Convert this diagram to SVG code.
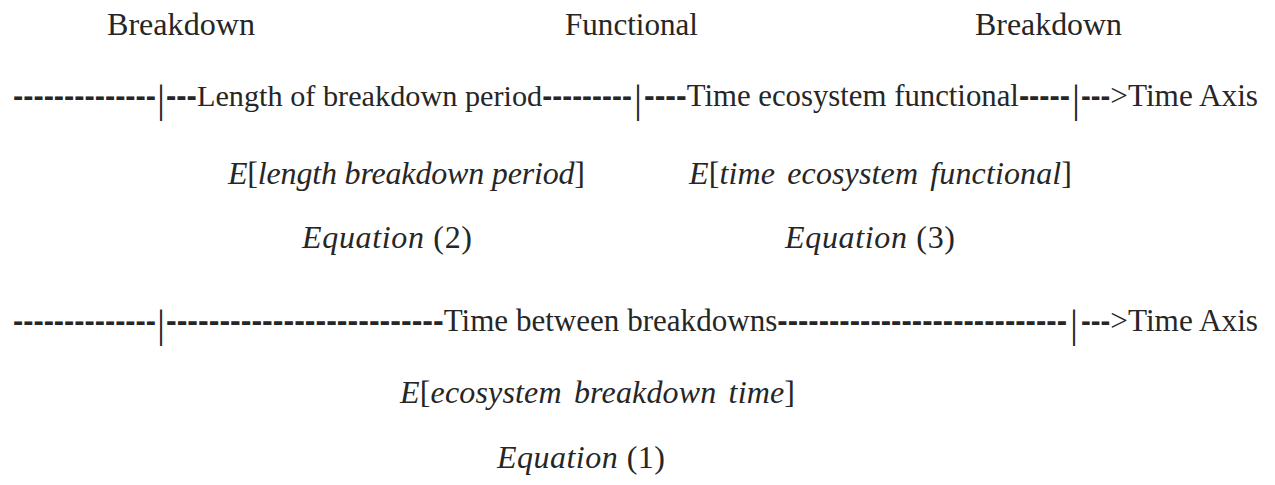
<svg xmlns="http://www.w3.org/2000/svg" width="1275" height="485" viewBox="0 0 1275 485">
<style>
text{font-family:"Liberation Serif","Times New Roman",serif;font-size:32px;fill:#262626}
.d{font-family:"Liberation Sans",Arial,sans-serif;font-weight:bold;font-size:30px}
.i{font-style:italic}
.p{font-size:40px;font-weight:normal}
</style>
<rect width="1275" height="485" fill="#ffffff"/>
<g id="labels-top">
<text x="107" y="35" textLength="148" lengthAdjust="spacingAndGlyphs">Breakdown</text>
<text x="565" y="35" textLength="133" lengthAdjust="spacingAndGlyphs">Functional</text>
<text x="975" y="35" textLength="147" lengthAdjust="spacingAndGlyphs">Breakdown</text>
</g>
<g id="axis-1">
<text class="d" x="13" y="106" textLength="143" lengthAdjust="spacingAndGlyphs">--------------</text>
<text class="p" x="157" y="112">|</text>
<text x="166" y="106" textLength="466" lengthAdjust="spacingAndGlyphs"><tspan class="d" style="font-size:31px">---</tspan><tspan style="font-size:30.3px">Length of breakdown period</tspan><tspan class="d">---------</tspan></text>
<text class="p" x="634" y="112">|</text>
<text x="644" y="106" textLength="426" lengthAdjust="spacingAndGlyphs"><tspan class="d" style="font-size:32px">----</tspan><tspan style="font-size:30.7px">Time ecosystem functional</tspan><tspan class="d" style="font-size:30.6px">-----</tspan></text>
<text class="p" x="1072" y="112">|</text>
<text x="1081" y="106" textLength="177" lengthAdjust="spacingAndGlyphs"><tspan class="d">---</tspan>&gt;Time Axis</text>
</g>
<g id="expect-breakdown-period">
<text x="228" y="184" textLength="357" lengthAdjust="spacing"><tspan class="i">E</tspan>[<tspan class="i">length breakdown period</tspan>]</text>
</g>
<g id="expect-functional">
<text x="689" y="184" textLength="383" lengthAdjust="spacing" word-spacing="4"><tspan class="i">E</tspan>[<tspan class="i">time ecosystem functional</tspan>]</text>
</g>
<g id="eq2">
<text x="302" y="248" textLength="170" lengthAdjust="spacing"><tspan class="i">Equation</tspan> (2)</text>
</g>
<g id="eq3">
<text x="785" y="248" textLength="170" lengthAdjust="spacing"><tspan class="i">Equation</tspan> (3)</text>
</g>
<g id="axis-2">
<text class="d" x="13" y="331" textLength="143" lengthAdjust="spacingAndGlyphs">--------------</text>
<text class="p" x="157" y="337">|</text>
<text x="166" y="331" textLength="901" lengthAdjust="spacingAndGlyphs"><tspan class="d" style="font-size:32px">--------------------------</tspan><tspan style="font-size:31px">Time between breakdowns</tspan><tspan class="d" style="font-size:31px">----------------------------</tspan></text>
<text class="p" x="1070" y="337">|</text>
<text x="1081" y="331" textLength="177" lengthAdjust="spacingAndGlyphs"><tspan class="d">---</tspan>&gt;Time Axis</text>
</g>
<g id="expect-breakdown-time">
<text x="400" y="403" textLength="395" lengthAdjust="spacing" word-spacing="4"><tspan class="i">E</tspan>[<tspan class="i">ecosystem breakdown time</tspan>]</text>
</g>
<g id="eq1">
<text x="497" y="468" textLength="168" lengthAdjust="spacing"><tspan class="i">Equation</tspan> (1)</text>
</g>
</svg>
